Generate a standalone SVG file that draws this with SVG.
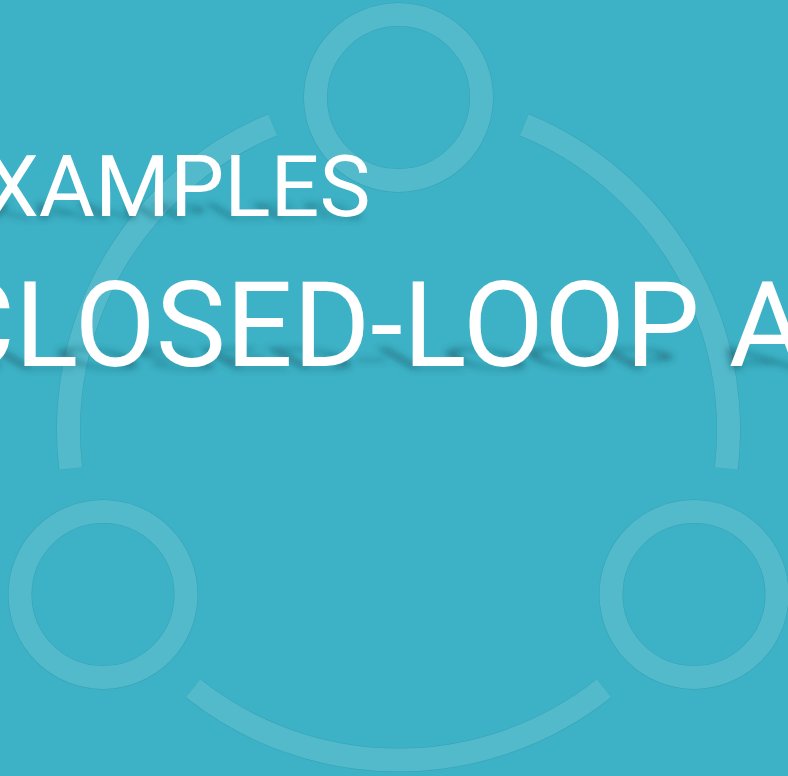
<svg xmlns="http://www.w3.org/2000/svg" width="788" height="776" viewBox="0 0 788 776">
<style>
.edge{fill:none;stroke:#35a3b6;stroke-width:24}
.ring{fill:none;stroke:#53bacb;stroke-width:23}
.arcl{fill:none;stroke:#53bacb;stroke-width:23;stroke-linecap:butt}
.title{font-family:Roboto,"Liberation Sans",sans-serif;fill:#ffffff}
.shadow{font-family:Roboto,"Liberation Sans",sans-serif;fill:#15515c;opacity:0.5}
</style>
<defs>
<filter id="blur" x="-10%" y="-50%" width="120%" height="200%"><feGaussianBlur stdDeviation="3"/></filter>
</defs>
<rect width="788" height="776" fill="#3db1c5"/>
<g id="connectors">
<path class="edge" d="M524.3,124.9 A330,330 0 0 1 726.3,468.5"/>
<path class="edge" d="M603.9,688.3 A330,330 0 0 1 193.1,688.3"/>
<path class="edge" d="M70.7,468.5 A330,330 0 0 1 272.7,124.9"/>
<path class="arcl" d="M524.3,124.9 A330,330 0 0 1 726.3,468.5"/>
<path class="arcl" d="M603.9,688.3 A330,330 0 0 1 193.1,688.3"/>
<path class="arcl" d="M70.7,468.5 A330,330 0 0 1 272.7,124.9"/>
</g>
<g id="node-top">
<circle class="edge" cx="398.5" cy="97.5" r="83"/>
<circle class="ring" cx="398.5" cy="97.5" r="83"/>
</g>
<g id="node-left">
<circle class="edge" cx="103" cy="594.5" r="83"/>
<circle class="ring" cx="103" cy="594.5" r="83"/>
</g>
<g id="node-right">
<circle class="edge" cx="694" cy="594.5" r="83"/>
<circle class="ring" cx="694" cy="594.5" r="83"/>
</g>
<g id="text-shadows" filter="url(#blur)">
<text class="shadow" x="-64" y="0" font-size="86" transform="translate(0,219) skewX(60) scale(1,0.25)">EXAMPLES</text>
<text class="shadow" x="-62" y="0" font-size="118" transform="translate(0,369) skewX(60) scale(1,0.25)">CLOSED-LOOP A</text>
</g>
<g id="titles">
<text class="title" x="-64" y="216" font-size="86">EXAMPLES</text>
<text class="title" x="-62" y="366" font-size="118">CLOSED-LOOP A</text>
</g>
</svg>
